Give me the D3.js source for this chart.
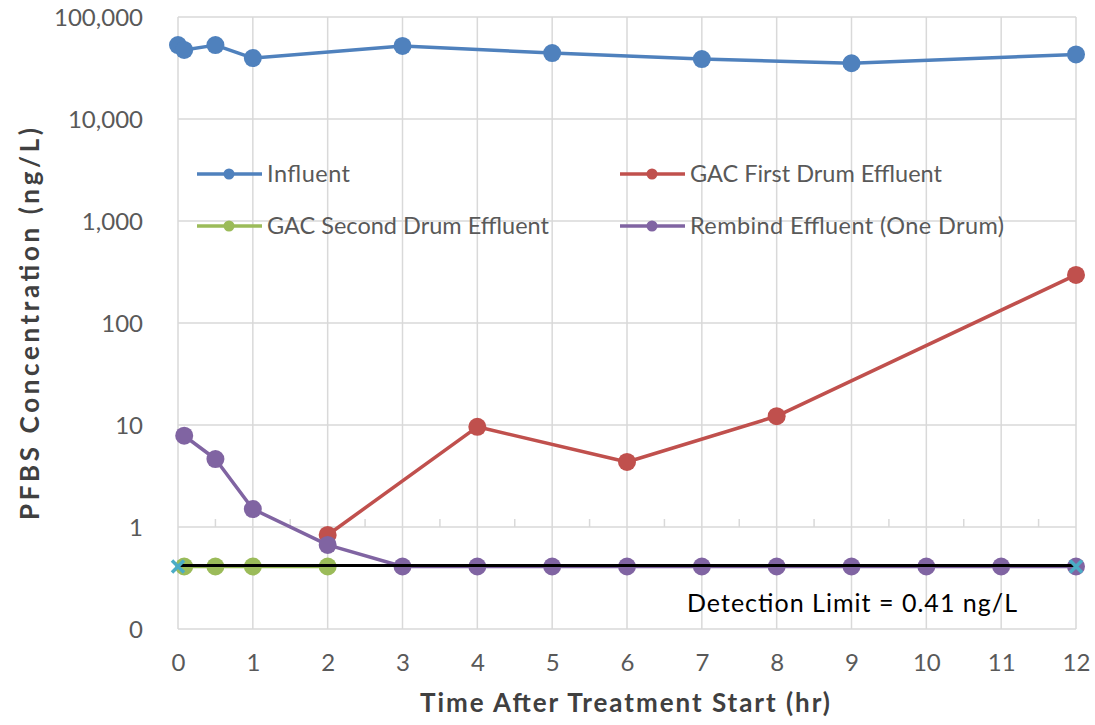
<!DOCTYPE html>
<html><head><meta charset="utf-8">
<script src="https://cdn.jsdelivr.net/npm/d3@7"></script>
<style>body{margin:0;background:#fff}svg{display:block}text{font-family:Lato,"Open Sans",sans-serif}</style>
</head><body><svg id="c" width="1095" height="725"></svg>
<script>
const xTicks=[0,1,2,3,4,5,6,7,8,9,10,11,12];
const yTicks=[100000,10000,1000,100,10,1,0.1];
const yTickLabels=["100,000","10,000","1,000","100","10","1","0"];
const influentX=[0,0.083,0.5,1,3,5,7,9,12];
const influentY=[53000,47500,53000,39600,52000,44300,38700,35200,43000];
const gac1X=[2,4,6,8,12];
const gac1Y=[0.835,9.6,4.34,12.2,296];
const gac2X=[0.083,0.5,1,2];
const gac2Y=[0.41,0.41,0.41,0.41];
const rembindX=[0.083,0.5,1,2,3,4,5,6,7,8,9,10,11,12];
const rembindY=[7.85,4.64,1.5,0.667,0.41,0.41,0.41,0.41,0.41,0.41,0.41,0.41,0.41,0.41];
const detX=[0,12];
const detY=[0.41,0.41];
const seriesNames=["Influent","GAC First Drum Effluent","GAC Second Drum Effluent","Rembind Effluent (One Drum)"];
const colors=["#4F81BD","#C0504D","#9BBB59","#8064A2"];

const svg=d3.select("#c");
const L=178,R=1076,T=17,B=629;
const x=d3.scaleLinear().domain([0,12]).range([L,R]);
const y=d3.scaleLog().domain([0.1,100000]).range([B,T]);

// grid
const g=svg.append("g");
g.selectAll(".vg").data(xTicks).join("line").attr("x1",d=>x(d)).attr("x2",d=>x(d)).attr("y1",T).attr("y2",B).attr("stroke","#d9d9d9").attr("stroke-width",1.5);
g.selectAll(".hg").data(yTicks).join("line").attr("x1",L).attr("x2",R).attr("y1",d=>y(d)).attr("y2",d=>y(d)).attr("stroke","#d9d9d9").attr("stroke-width",1.5);
const minor=d3.range(0.5,12,1);
g.selectAll(".mt").data(minor).join("line").attr("x1",d=>x(d)).attr("x2",d=>x(d)).attr("y1",y(1)).attr("y2",y(1)-8).attr("stroke","#d9d9d9").attr("stroke-width",1.5);

// axes labels
const xa=d3.axisBottom(x).tickValues(xTicks).tickSize(0).tickFormat(d3.format("d"));
const xg=svg.append("g").attr("transform",`translate(0,${B+22})`).call(xa);
xg.select(".domain").remove();
xg.selectAll("text").attr("font-size",24).attr("fill","#595959").attr("font-family","Lato");
const ya=d3.axisLeft(y).tickValues(yTicks).tickSize(0).tickFormat((d,i)=>yTickLabels[i]);
const yg=svg.append("g").attr("transform",`translate(${L-32},0)`).call(ya);
yg.select(".domain").remove();
yg.selectAll("text").attr("font-size",24).attr("fill","#595959").attr("font-family","Lato").attr("dy","0.35em");

// titles
svg.append("text").attr("x",625).attr("y",712).attr("text-anchor","middle").attr("font-size",26).attr("font-weight","bold").attr("fill","#404040").attr("textLength",410).attr("lengthAdjust","spacing").text("Time After Treatment Start (hr)");
svg.append("text").attr("transform","translate(39,324) rotate(-90)").attr("text-anchor","middle").attr("font-size",26).attr("font-weight","bold").attr("fill","#404040").attr("textLength",392).attr("lengthAdjust","spacing").text("PFBS Concentration (ng/L)");

const line=d3.line().x(d=>x(d[0])).y(d=>y(d[1]));
const data=[d3.zip(influentX,influentY),d3.zip(gac1X,gac1Y),d3.zip(gac2X,gac2Y),d3.zip(rembindX,rembindY)];
data.forEach((pts,i)=>{
  svg.append("path").attr("d",line(pts)).attr("fill","none").attr("stroke",colors[i]).attr("stroke-width",3.5).attr("stroke-linejoin","round");
  svg.append("g").selectAll("circle").data(pts).join("circle").attr("cx",d=>x(d[0])).attr("cy",d=>y(d[1])).attr("r",9).attr("fill",colors[i]);
});
const det=d3.zip(detX,detY);
svg.append("path").attr("d",line(det)).attr("stroke","#000").attr("stroke-width",3).attr("fill","none").attr("transform","translate(0,-1)");
const xs=svg.append("g");
det.forEach(d=>{
  const cx=x(d[0]),cy=y(d[1]),s=6;
  xs.append("path").attr("d",`M${cx-s},${cy-s}L${cx+s},${cy+s}M${cx-s},${cy+s}L${cx+s},${cy-s}`).attr("stroke","#4BACC6").attr("stroke-width",3.5);
});
svg.append("text").attr("x",687).attr("y",612).attr("font-size",25).attr("fill","#000").attr("textLength",330).attr("lengthAdjust","spacing").text("Detection Limit = 0.41 ng/L");

// legend
const leg=[[197,174],[620,174],[197,226],[620,226]];
const legW=[83,252,282,314];
seriesNames.forEach((n,i)=>{
  const [lx,ly]=leg[i];
  svg.append("line").attr("x1",lx).attr("x2",lx+65).attr("y1",ly).attr("y2",ly).attr("stroke",colors[i]).attr("stroke-width",3.5);
  svg.append("circle").attr("cx",lx+32).attr("cy",ly).attr("r",5.5).attr("fill",colors[i]);
  svg.append("text").attr("x",lx+70).attr("y",ly).attr("dy","0.35em").attr("font-size",23.5).attr("fill","#595959").attr("textLength",legW[i]).attr("lengthAdjust","spacing").text(n);
});
</script></body></html>
